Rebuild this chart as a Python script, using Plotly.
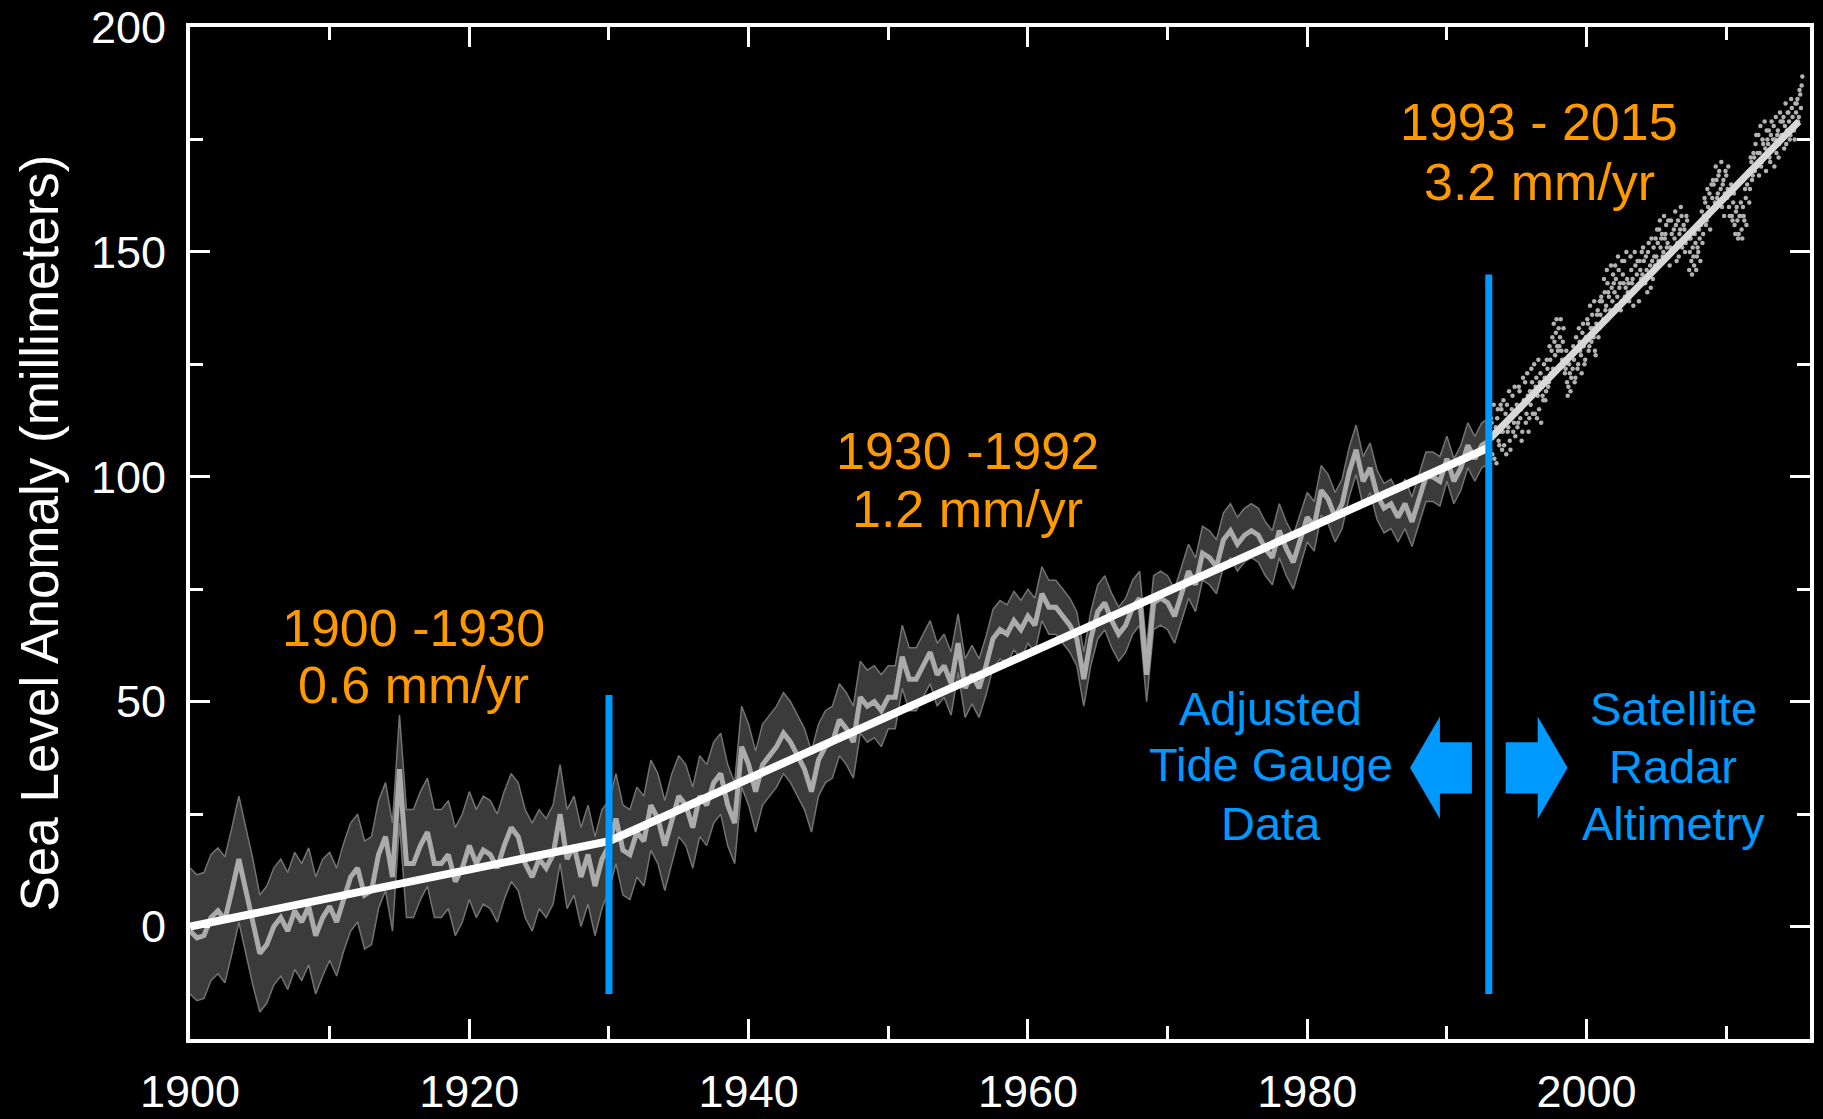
import plotly.graph_objects as go

# ---------------- data ----------------
# Adjusted tide-gauge reconstruction, half-year steps from 1900.0 to 1993.0 (mm)
tide_start = 1900.0
tide_step = 0.5
tide_mid = [
    -1, -2.5, -2, 2, 3.5, 1.5, 8, 15, 8, 1,
    -6, -4, 0, 2, -1, 3.5, 1, 4.5, -2, 2,
    4.5, 1, 6.5, 11, 13, 7, 8, 16, 20, 11,
    35, 14, 14, 18, 21, 14, 14, 16, 10, 13,
    18, 14, 17, 16, 13, 18, 22, 20, 14, 11,
    15, 13,
    16, 25, 15, 18, 11, 16, 9, 15, 18, 24,
    17, 16, 21, 19, 27, 24, 18, 24, 29, 27,
    22, 29, 27, 32, 34, 27, 23, 40, 36, 30,
    36, 38, 40, 43, 41, 38, 35, 30, 37, 40,
    41, 46, 44, 41, 51, 49, 50, 48, 51,
    51, 60, 55, 55, 58, 61, 56, 58, 54, 63,
    53, 56, 53, 58, 64, 66, 65, 68, 66, 69,
    67, 74, 71, 71, 69, 67, 64, 55, 64, 70,
    72, 68, 65, 67, 71, 73, 56, 72, 73, 72,
    69, 74, 79, 76, 83, 82, 80, 86, 88, 85,
    87,
    88, 87, 84, 82, 88, 84, 81, 86, 91, 89,
    97, 95, 91, 94, 101, 106, 99, 102, 96, 93,
    94, 91, 94, 90, 95, 100, 100, 99, 104, 99,
    102, 107, 104, 107, 108,
]
# uncertainty half-width (mm) for each 5-year block starting 1900, 1905, ... 1990
tide_err_bins = [14, 13, 12, 12, 12, 11, 10, 9, 9, 8, 7, 6.5, 6, 6, 6, 6, 5.5, 5.5, 5]

# Satellite altimetry, two interleaved sets of 0.1-year steps (mm)
sat_start_a = 1993.1
sat_start_b = 1993.15
sat_step = 0.1
sat_vals_a = [
    106, 112, 109, 104, 111, 113, 108, 110, 115,
    110, 107, 114, 116, 111, 108, 113, 118, 112, 109,
    116, 112, 119, 115, 110, 117, 121, 114, 118, 113,
    116, 121, 119, 114, 122, 118, 115, 123, 120, 117,
    122, 119, 124, 121, 126, 128, 124, 130, 132, 129,
    133, 131, 128, 130, 126, 124, 121, 120, 123, 122,
    124, 126, 122, 128, 125, 130, 127, 132, 129, 126,
    131, 134, 129, 133, 136, 131, 128, 134, 137, 133,
    136, 139, 135, 141, 138, 143, 140, 137, 142, 145,
    141, 144, 140, 146, 143, 139, 145, 148, 142, 144,
    143, 140, 146, 144, 141, 147, 145, 142, 148, 144,
    145, 148, 143, 146, 150, 145, 142, 148, 151, 147,
    149, 152, 155, 151, 154, 150, 153, 156, 152, 149,
    151, 154, 150, 153, 156, 152, 149, 155, 158, 153,
    155, 152, 157, 153, 150, 148, 151, 147, 152, 149,
    150, 153, 156, 152, 158, 161, 157, 160, 163, 159,
    162, 165, 161, 166, 163, 168, 164, 160, 166, 163,
    167, 164, 160, 163, 158, 161, 156, 159, 157, 154,
    158, 155, 160, 157, 162, 165, 168, 164, 170, 167,
    171, 174, 169, 176, 172, 169, 175, 171, 173, 177,
    174, 171, 176, 173, 178, 175, 172, 177, 174, 179,
    176, 180, 178, 174, 181, 179, 176, 182, 178, 175,
    181, 184, 180, 185, 187,
]
sat_vals_b = [
    113, 105, 116, 110, 103, 115, 107, 116, 106,
    117, 112, 105, 110, 119, 106, 115, 110, 120, 114,
    111, 120, 113, 108, 122, 116, 112, 123, 110, 119,
    124, 114, 125, 120, 113, 126, 121, 112, 118, 125,
    117, 126, 120, 129, 123, 131, 134, 127, 135, 128,
    129, 135, 126, 133, 123, 128, 118, 125, 119, 127,
    129, 121, 131, 124, 133, 128, 123, 134, 125, 131,
    135, 128, 138, 130, 133, 139, 127, 136, 131, 139,
    140, 134, 144, 137, 146, 141, 136, 147, 139, 143,
    147, 138, 149, 142, 137, 148, 143, 140, 150, 141,
    139, 149, 143, 138, 150, 142, 148, 139, 146, 150,
    151, 144, 149, 141, 152, 147, 153, 144, 149, 153,
    155, 148, 157, 153, 149, 158, 154, 151, 157, 147,
    157, 150, 155, 159, 148, 157, 154, 160, 151, 156,
    150, 158, 154, 146, 153, 145, 149, 154, 146, 151,
    155, 148, 159, 154, 162, 156, 164, 158, 155, 165,
    166, 160, 169, 162, 167, 161, 170, 165, 158, 168,
    162, 169, 158, 165, 157, 163, 154, 160, 153, 158,
    161, 153, 158, 164, 156, 167, 161, 171, 166, 172,
    168, 176, 172, 167, 178, 170, 174, 179, 168, 175,
    177, 170, 179, 175, 169, 180, 176, 171, 181, 176,
    179, 173, 183, 177, 181, 175, 184, 180, 177, 183,
    183, 179, 186, 182, 189,
]

# Linear trends
trend_tide_years = [1900, 1930, 1993]
trend_tide_vals = [0, 19, 106.5]
trend_sat_years = [1993.1, 2015.2]
trend_sat_vals = [108.5, 179]

# Period separators (year, top mm); both start at -15 mm
break_years = [1930, 1993]
break_tops = [51.5, 145]
break_bottom = -15

x_major = [1900, 1920, 1940, 1960, 1980, 2000]
x_minor = [1910, 1930, 1950, 1970, 1990, 2010]
y_major = [0, 50, 100, 150, 200]
y_minor = [-25, 25, 75, 125, 175]

# ---------------- derived series ----------------
tide_years = [tide_start + i * tide_step for i in range(len(tide_mid))]
tide_err = [tide_err_bins[min(int((y - 1900) // 5), len(tide_err_bins) - 1)] for y in tide_years]
tide_up = [m + e for m, e in zip(tide_mid, tide_err)]
tide_lo = [m - e for m, e in zip(tide_mid, tide_err)]
sat_years_a = [round(sat_start_a + i * sat_step, 3) for i in range(len(sat_vals_a))]
sat_years_b = [round(sat_start_b + i * sat_step, 3) for i in range(len(sat_vals_b))]

BLUE = "#0099ff"
ORANGE = "#ff9900"
FONT = "Liberation Sans, Arial, sans-serif"

fig = go.Figure()

# uncertainty band
fig.add_trace(go.Scatter(
    x=tide_years + tide_years[::-1], y=tide_up + tide_lo[::-1],
    fill="toself", fillcolor="#3b3b3b", mode="lines",
    line=dict(color="#737373", width=1.5), hoverinfo="skip", showlegend=False))
# central estimate
fig.add_trace(go.Scatter(x=tide_years, y=tide_mid, mode="lines",
                         line=dict(color="#ababab", width=5), showlegend=False))
# satellite points
fig.add_trace(go.Scatter(x=sat_years_a + sat_years_b, y=sat_vals_a + sat_vals_b,
                         mode="markers", marker=dict(color="#b2b2b2", size=4.5),
                         showlegend=False))
# trends
fig.add_trace(go.Scatter(x=trend_tide_years, y=trend_tide_vals, mode="lines",
                         line=dict(color="white", width=8), showlegend=False))
fig.add_trace(go.Scatter(x=trend_sat_years, y=trend_sat_vals, mode="lines",
                         line=dict(color="#d8d8d8", width=7), showlegend=False))
# separators
for bx, bt in zip(break_years, break_tops):
    fig.add_trace(go.Scatter(x=[bx, bx], y=[break_bottom, bt], mode="lines",
                             line=dict(color=BLUE, width=7), showlegend=False))

# block arrows either side of the 1993 separator
sep = break_years[1]
tip, base, shaft_end = 5.64, 3.5, 1.21
head_half, shaft_half, arrow_y = 11.4, 5.7, 35.3
for d in (-1, 1):
    xs = [sep + d * tip, sep + d * base, sep + d * base, sep + d * shaft_end,
          sep + d * shaft_end, sep + d * base, sep + d * base, sep + d * tip]
    ys = [arrow_y, arrow_y + head_half, arrow_y + shaft_half, arrow_y + shaft_half,
          arrow_y - shaft_half, arrow_y - shaft_half, arrow_y - head_half, arrow_y]
    fig.add_trace(go.Scatter(x=xs, y=ys, fill="toself", fillcolor=BLUE, mode="lines",
                             line=dict(width=0, color=BLUE), hoverinfo="skip", showlegend=False))

def label(x, y, text, color, size):
    fig.add_annotation(x=x, y=y, xref="x", yref="y", text=text, showarrow=False,
                       xanchor="center", yanchor="middle",
                       font=dict(family=FONT, size=size, color=color))

label(1916.0, 66.4, "1900 -1930", ORANGE, 52)
label(1916.0, 53.6, "0.6 mm/yr", ORANGE, 52)
label(1955.7, 105.8, "1930 -1992", ORANGE, 52)
label(1955.7, 92.9, "1.2 mm/yr", ORANGE, 52)
label(1996.6, 178.9, "1993 - 2015", ORANGE, 52)
label(1996.6, 165.6, "3.2 mm/yr", ORANGE, 52)
label(1977.4, 48.4, "Adjusted", BLUE, 47)
label(1977.4, 36.0, "Tide Gauge", BLUE, 47)
label(1977.4, 22.9, "Data", BLUE, 47)
label(2006.2, 48.4, "Satellite", BLUE, 47)
label(2006.2, 35.5, "Radar", BLUE, 47)
label(2006.2, 22.9, "Altimetry", BLUE, 47)

axis_common = dict(
    showline=True, linecolor="white", linewidth=4, mirror="ticks",
    ticks="inside", ticklen=20, tickwidth=3, tickcolor="white",
    showgrid=False, zeroline=False, automargin=False,
    tickfont=dict(family=FONT, size=45, color="white"),
)

fig.update_xaxes(range=[1900, 2016], tickmode="array", tickvals=x_major,
                 ticklabelstandoff=10,
                 minor=dict(tickmode="array", tickvals=x_minor, ticks="inside",
                            ticklen=13, tickwidth=3, tickcolor="white"),
                 **axis_common)
fig.update_yaxes(range=[-25, 200], tickmode="array", tickvals=y_major,
                 ticklabelstandoff=11,
                 minor=dict(tickmode="array", tickvals=y_minor, ticks="inside",
                            ticklen=13, tickwidth=3, tickcolor="white"),
                 title=dict(text="Sea Level Anomaly (millimeters)", standoff=16,
                            font=dict(family=FONT, size=53, color="white")),
                 **axis_common)

fig.update_layout(
    width=1823, height=1119, autosize=False,
    margin=dict(l=190, r=13, t=27, b=80),
    paper_bgcolor="black", plot_bgcolor="black",
    font=dict(family=FONT, color="white"),
    showlegend=False,
)

fig.write_html("out.html", config={"displayModeBar": False},
               post_script="document.body.style.margin='0';document.body.style.overflow='hidden';")
